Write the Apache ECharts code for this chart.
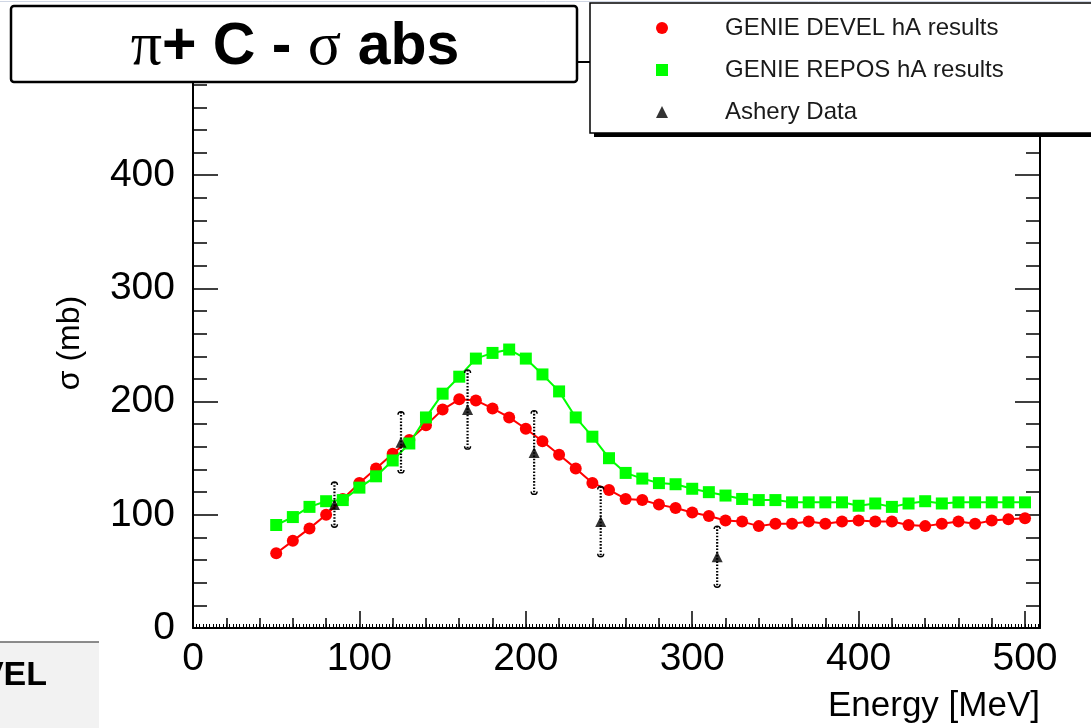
<!DOCTYPE html>
<html>
<head>
<meta charset="utf-8">
<script src="https://cdn.jsdelivr.net/npm/echarts@6/dist/echarts.min.js"></script>
<style>
  html, body { margin: 0; padding: 0; background: #fff; }
  #chart { width: 1091px; height: 728px; }
</style>
</head>
<body>
<div id="chart"></div>
<script>
// ---- data ----
const energies = [50, 60, 70, 80, 90, 100, 110, 120, 130, 140, 150, 160, 170, 180, 190, 200,
  210, 220, 230, 240, 250, 260, 270, 280, 290, 300, 310, 320, 330, 340, 350, 360, 370, 380,
  390, 400, 410, 420, 430, 440, 450, 460, 470, 480, 490, 500];
const develValues = [66, 77, 88, 100, 114, 128, 141, 154, 166, 179, 193, 202, 201, 194, 186, 176,
  165, 153, 141, 128, 122, 114, 113, 109, 106, 102, 99, 95, 94, 90, 92, 92, 94, 92,
  94, 95, 94, 94, 91, 90, 92, 94, 92, 95, 96, 97];
const reposValues = [91, 98, 107, 112, 113, 124, 134, 148, 163, 186, 207, 222, 238, 243, 246, 238,
  224, 209, 186, 169, 150, 137, 132, 128, 127, 123, 120, 117, 114, 113, 113, 111, 111, 111,
  111, 108, 110, 107, 110, 112, 110, 111, 111, 111, 111, 111];
const asheryEnergies = [85, 125, 165, 205, 245, 315];
const asheryValues = [109, 164, 193, 155, 94, 63];
const asheryErrors = [20, 27, 35, 37, 31, 27];
const seriesNames = ['GENIE DEVEL hA results', 'GENIE REPOS hA results', 'Ashery Data'];
const xTitle = 'Energy [MeV]';
const yTitle = 'σ (mb)';

const FONT = '"Liberation Sans", Arial, Helvetica, sans-serif';
const SERIF = '"Liberation Serif", "DejaVu Serif", serif';

const chart = echarts.init(document.getElementById('chart'), null, { renderer: 'canvas' });

const develData = energies.map((e, i) => [e, develValues[i]]);
const reposData = energies.map((e, i) => [e, reposValues[i]]);
const asheryData = asheryEnergies.map((e, i) => [e, asheryValues[i]]);
const errorData = asheryEnergies.map((e, i) => [e, asheryValues[i] - asheryErrors[i], asheryValues[i] + asheryErrors[i]]);

const XMAX = 509;
const YMAX = 500;
const axisLineStyle = { color: '#000', width: 2 };

// helper for tick-only axes (frame ticks of several lengths)
function tickAxis(kind, position, interval, length, width, withLine) {
  return {
    type: 'value', min: 0, max: kind === 'x' ? XMAX : YMAX, interval: interval, position: position,
    axisLine: { show: !!withLine, onZero: false, lineStyle: axisLineStyle },
    axisTick: { show: true, inside: true, length: length, lineStyle: { color: '#000', width: width } },
    axisLabel: { show: false },
    splitLine: { show: false }
  };
}

const option = {
  backgroundColor: '#fff',
  animation: false,
  grid: { left: 193, right: 51, top: 62, bottom: 100, containLabel: false },
  xAxis: [
    {
      type: 'value', min: 0, max: XMAX, interval: 100, position: 'bottom',
      axisLine: { show: true, onZero: false, lineStyle: axisLineStyle },
      axisTick: { show: true, inside: true, length: 17, lineStyle: { color: '#000', width: 1.5 } },
      axisLabel: { fontSize: 39, color: '#000', margin: 12, fontFamily: FONT, showMaxLabel: false },
      splitLine: { show: false }
    },
    tickAxis('x', 'bottom', 20, 10, 1.5, false),
    tickAxis('x', 'bottom', 2, 4, 1, false),
    tickAxis('x', 'top', 100, 17, 1.5, true),
    tickAxis('x', 'top', 20, 10, 1.5, false)
  ],
  yAxis: [
    {
      type: 'value', min: 0, max: YMAX, interval: 100, position: 'left',
      axisLine: { show: true, onZero: false, lineStyle: axisLineStyle },
      axisTick: { show: true, inside: true, length: 25, lineStyle: { color: '#000', width: 1.5 } },
      axisLabel: { fontSize: 39, color: '#000', margin: 18, fontFamily: FONT, showMaxLabel: false },
      splitLine: { show: false }
    },
    tickAxis('y', 'left', 20, 14, 1.5, false),
    tickAxis('y', 'right', 100, 25, 1.5, true),
    tickAxis('y', 'right', 20, 14, 1.5, false)
  ],
  legend: {
    z: 30,
    orient: 'vertical',
    left: 651, top: 11,
    itemWidth: 12, itemHeight: 12, itemGap: 18,
    selectedMode: false,
    textStyle: { fontSize: 24, color: '#1a1a1a', fontFamily: FONT, padding: [0, 0, 0, 52] },
    data: [
      { name: seriesNames[0], icon: 'circle' },
      { name: seriesNames[1], icon: 'rect' },
      { name: seriesNames[2], icon: 'triangle' }
    ]
  },
  series: [
    {
      name: seriesNames[0], type: 'line', xAxisIndex: 0, yAxisIndex: 0, z: 3,
      data: develData, symbol: 'circle', symbolSize: 12,
      itemStyle: { color: '#ff0000' },
      lineStyle: { color: '#ff0000', width: 2 }
    },
    {
      name: seriesNames[1], type: 'line', xAxisIndex: 0, yAxisIndex: 0, z: 4,
      data: reposData, symbol: 'rect', symbolSize: 12,
      itemStyle: { color: '#00ff00' },
      lineStyle: { color: '#00ff00', width: 2 }
    },
    {
      name: 'Ashery errors', type: 'custom', xAxisIndex: 0, yAxisIndex: 0, z: 5,
      data: errorData,
      renderItem: function (params, api) {
        const lo = api.coord([api.value(0), api.value(1)]);
        const hi = api.coord([api.value(0), api.value(2)]);
        const x = lo[0];
        return {
          type: 'group',
          children: [
            { type: 'line', shape: { x1: x, y1: hi[1], x2: x, y2: lo[1] },
              style: { stroke: '#000', lineWidth: 2.2, lineDash: [1.6, 1.6] } },
            { type: 'arc', shape: { cx: x, cy: hi[1] + 3, r: 3, startAngle: Math.PI, endAngle: 2 * Math.PI },
              style: { stroke: '#000', lineWidth: 1.4, fill: null } },
            { type: 'arc', shape: { cx: x, cy: lo[1] - 3, r: 3, startAngle: 0, endAngle: Math.PI },
              style: { stroke: '#000', lineWidth: 1.4, fill: null } }
          ]
        };
      }
    },
    {
      name: seriesNames[2], type: 'scatter', xAxisIndex: 0, yAxisIndex: 0, z: 6,
      data: asheryData, symbol: 'triangle', symbolSize: 11,
      itemStyle: { color: '#000' }
    }
  ],
  graphic: [
    { type: 'line', z: 40, shape: { x1: 0, y1: 1.5, x2: 1091, y2: 1.5 }, style: { stroke: '#cfd6e4', lineWidth: 1 } },
    // title box
    { type: 'rect', z: 40, shape: { x: 11, y: 6, width: 566, height: 76, r: 3 },
      style: { fill: '#fff', stroke: '#000', lineWidth: 2.5 } },
    { type: 'text', z: 41, x: 295, y: 48,
      style: {
        text: '{p|π}{b|+ C - }{p|σ}{b| abs}',
        align: 'center', verticalAlign: 'middle',
        rich: {
          p: { fontFamily: SERIF, fontSize: 62, fill: '#000' },
          b: { fontFamily: FONT, fontSize: 59, fontWeight: 'bold', fill: '#000' }
        }
      } },
    // legend box with shadow
    { type: 'rect', z: 25, shape: { x: 594, y: 7, width: 520, height: 130 }, style: { fill: '#000' } },
    { type: 'rect', z: 26, shape: { x: 590, y: 3, width: 520, height: 130 },
      style: { fill: '#fff', stroke: '#000', lineWidth: 1.5 } },
    // axis titles
    { type: 'text', z: 20, x: 1040, y: 706,
      style: { text: xTitle, align: 'right', verticalAlign: 'middle', fontFamily: FONT, fontSize: 35, fill: '#000' } },
    { type: 'text', z: 20, x: 70, y: 343, rotation: Math.PI / 2,
      style: { text: yTitle, align: 'center', verticalAlign: 'middle', fontFamily: FONT, fontSize: 32, fill: '#000' } },
    // neighbouring panel at bottom left
    { type: 'rect', z: 20, shape: { x: 0, y: 642, width: 99, height: 90 }, style: { fill: '#f2f2f2' } },
    { type: 'line', z: 21, shape: { x1: 0, y1: 642, x2: 99, y2: 642 }, style: { stroke: '#666', lineWidth: 1.5 } },
    { type: 'text', z: 22, x: 47, y: 676,
      style: { text: 'VEL', align: 'right', verticalAlign: 'middle', fontFamily: FONT, fontSize: 34, fontWeight: 'bold', fill: '#000' } }
  ]
};

chart.setOption(option);
</script>
</body>
</html>
